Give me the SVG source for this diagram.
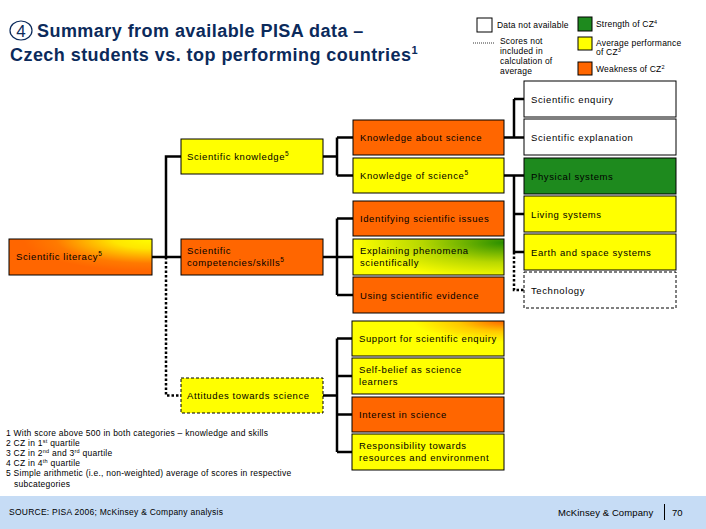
<svg xmlns="http://www.w3.org/2000/svg" width="706" height="529" viewBox="0 0 706 529">
<style>
.box{stroke:#000;stroke-width:1}
.or{fill:#ff6600}
.ye{fill:#ffff00}
.gr{fill:#1e8a1e}
.wh{fill:#fff}
.dash{stroke-dasharray:3 2}
.t{font-family:"Liberation Sans",Arial,sans-serif;font-size:9.5px;letter-spacing:0.6px;fill:#000}
.sup{font-size:6.5px}
.lg{font-family:"Liberation Sans",Arial,sans-serif;font-size:8.5px;letter-spacing:0.2px;fill:#000}
.fn{font-family:"Liberation Sans",Arial,sans-serif;font-size:8.5px;letter-spacing:0.25px;fill:#000}
.ttl{font-family:"Liberation Sans",Arial,sans-serif;font-size:18px;font-weight:bold;letter-spacing:0.45px;fill:#0b2a5b}
.conn{stroke:#000;stroke-width:2.5;fill:none}
.dot{stroke-dasharray:2.5 2}
</style>
<defs>
<radialGradient id="gLit" cx="1" cy="0" r="0.9">
<stop offset="0" stop-color="#ffff00"/>
<stop offset="0.3" stop-color="#ffe600"/>
<stop offset="0.75" stop-color="#ff7a00"/>
<stop offset="1" stop-color="#ff6600"/>
</radialGradient>
<radialGradient id="gExp" cx="1" cy="0.1" r="1">
<stop offset="0" stop-color="#2a8f00"/>
<stop offset="0.55" stop-color="#b8d800"/>
<stop offset="1" stop-color="#ffff00"/>
</radialGradient>
<radialGradient id="gSup" cx="1" cy="0" r="0.6">
<stop offset="0" stop-color="#ff6600"/>
<stop offset="0.5" stop-color="#ffc800"/>
<stop offset="1" stop-color="#ffff00"/>
</radialGradient>
</defs>

<g id="title">
<ellipse cx="21" cy="30.5" rx="11" ry="9.5" fill="none" stroke="#0b2a5b" stroke-width="1.2"/>
<text x="21" y="36.5" text-anchor="middle" font-family="Liberation Sans, Arial, sans-serif" font-size="17" fill="#0b2a5b">4</text>
<text class="ttl" x="37" y="36.5">Summary from available PISA data –</text>
<text class="ttl" x="10" y="60.5">Czech students vs. top performing countries<tspan font-size="11" dy="-7">1</tspan></text>
</g>

<g id="legend">
<rect x="477" y="18" width="15" height="14" class="box wh"/>
<text class="lg" x="497" y="27.5">Data not available</text>
<line x1="473" y1="43" x2="494" y2="43" stroke="#000" stroke-width="0.8" stroke-dasharray="1 1"/>
<text class="lg" x="500" y="43.5">Scores not</text>
<text class="lg" x="500" y="53.5">included in</text>
<text class="lg" x="500" y="63.5">calculation of</text>
<text class="lg" x="500" y="74">average</text>
<rect x="578" y="17" width="14" height="14" class="box gr"/>
<text class="lg" x="596" y="27">Strength of CZ<tspan font-size="5.5" dy="-3">4</tspan></text>
<rect x="578" y="37" width="14" height="13" class="box ye"/>
<text class="lg" x="596" y="45.5">Average performance</text>
<text class="lg" x="596" y="55">of CZ<tspan font-size="5.5" dy="-3">3</tspan></text>
<rect x="578" y="62" width="14" height="13" class="box or"/>
<text class="lg" x="596" y="71.5">Weakness of CZ<tspan font-size="5.5" dy="-3">2</tspan></text>
</g>

<g id="connectors">
<path class="conn" d="M152,257 H181 M166,257 V156.5 H181"/>
<path class="conn dot" d="M166,257 V395.5 H181"/>
<path class="conn" d="M323,156.5 H337 M337,137.5 V175.5 M337,137.5 H353 M337,175.5 H353"/>
<path class="conn" d="M323,257 H353 M337,218.5 V295 M337,218.5 H353 M337,295 H353"/>
<path class="conn" d="M323,395.5 H337 M337,338.5 V452 M337,338.5 H352 M337,376 H352 M337,414.5 H352 M337,452 H352"/>
<path class="conn" d="M504,137.5 H524 M514,99 V137.5 M514,99 H524"/>
<path class="conn" d="M504,175.5 H524 M514,175.5 V252 M514,214 H524 M514,252 H524"/>
<path class="conn dot" d="M514,252 V290 H524"/>
</g>

<g id="scientific-literacy">
<rect x="9" y="239" width="143" height="36" class="box" fill="url(#gLit)"/>
<text class="t" x="16" y="260">Scientific literacy<tspan class="sup" dy="-4">5</tspan></text>
</g>
<g id="scientific-knowledge">
<rect x="181" y="139" width="142" height="35" class="box ye"/>
<text class="t" x="187" y="160">Scientific knowledge<tspan class="sup" dy="-4">5</tspan></text>
</g>
<g id="scientific-competencies">
<rect x="181" y="239" width="142" height="36" class="box or"/>
<text class="t" x="187" y="254">Scientific</text>
<text class="t" x="187" y="266">competencies/skills<tspan class="sup" dy="-4">5</tspan></text>
</g>
<g id="attitudes">
<rect x="181" y="378" width="142" height="35" class="box ye dash"/>
<text class="t" x="187" y="398.5">Attitudes towards science</text>
</g>

<g id="knowledge-about-science">
<rect x="353" y="120" width="151" height="35" class="box or"/>
<text class="t" x="360" y="141">Knowledge about science</text>
</g>
<g id="knowledge-of-science">
<rect x="353" y="158" width="151" height="35" class="box ye"/>
<text class="t" x="360" y="179">Knowledge of science<tspan class="sup" dy="-4">5</tspan></text>
</g>
<g id="identifying">
<rect x="353" y="201" width="151" height="35" class="box or"/>
<text class="t" x="360" y="222">Identifying scientific issues</text>
</g>
<g id="explaining">
<rect x="353" y="239" width="151" height="36" class="box" fill="url(#gExp)"/>
<text class="t" x="360" y="254">Explaining phenomena</text>
<text class="t" x="360" y="266">scientifically</text>
</g>
<g id="using-evidence">
<rect x="353" y="277" width="151" height="36" class="box or"/>
<text class="t" x="360" y="298.5">Using scientific evidence</text>
</g>
<g id="support">
<rect x="352" y="321" width="152" height="35" class="box" fill="url(#gSup)"/>
<text class="t" x="359" y="342">Support for scientific enquiry</text>
</g>
<g id="self-belief">
<rect x="352" y="358" width="152" height="36" class="box ye"/>
<text class="t" x="359" y="373">Self-belief as science</text>
<text class="t" x="359" y="385">learners</text>
</g>
<g id="interest">
<rect x="352" y="397" width="152" height="35" class="box or"/>
<text class="t" x="359" y="418">Interest in science</text>
</g>
<g id="responsibility">
<rect x="352" y="434" width="152" height="36" class="box ye"/>
<text class="t" x="359" y="449">Responsibility towards</text>
<text class="t" x="359" y="461">resources and environment</text>
</g>

<g id="scientific-enquiry">
<rect x="524" y="81" width="152" height="36" class="box wh"/>
<text class="t" x="531" y="102.5">Scientific enquiry</text>
</g>
<g id="scientific-explanation">
<rect x="524" y="119" width="152" height="36" class="box wh"/>
<text class="t" x="531" y="140.5">Scientific explanation</text>
</g>
<g id="physical-systems">
<rect x="524" y="158" width="152" height="36" class="box gr"/>
<text class="t" x="531" y="179.5">Physical systems</text>
</g>
<g id="living-systems">
<rect x="524" y="196" width="152" height="36" class="box ye"/>
<text class="t" x="531" y="217.5">Living systems</text>
</g>
<g id="earth-space">
<rect x="524" y="234" width="152" height="36" class="box ye"/>
<text class="t" x="531" y="255.5">Earth and space systems</text>
</g>
<g id="technology">
<rect x="524" y="272" width="152" height="36" class="box wh dash"/>
<text class="t" x="531" y="293.5">Technology</text>
</g>

<g id="footnotes">
<text class="fn" x="6" y="436">1 With score above 500 in both categories – knowledge and skills</text>
<text class="fn" x="6" y="446">2 CZ in 1<tspan font-size="5.5" dy="-3">st</tspan><tspan dy="3"> quartile</tspan></text>
<text class="fn" x="6" y="456">3 CZ in 2<tspan font-size="5.5" dy="-3">nd</tspan><tspan dy="3"> and 3</tspan><tspan font-size="5.5" dy="-3">rd</tspan><tspan dy="3"> quartile</tspan></text>
<text class="fn" x="6" y="466">4 CZ in 4<tspan font-size="5.5" dy="-3">th</tspan><tspan dy="3"> quartile</tspan></text>
<text class="fn" x="6" y="476">5 Simple arithmetic (i.e., non-weighted) average of scores in respective</text>
<text class="fn" x="14" y="487">subcategories</text>
</g>

<g id="footer">
<rect x="0" y="496" width="706" height="33" fill="#c6dcf5"/>
<text class="fn" x="9" y="515" font-size="8.8">SOURCE: PISA 2006; McKinsey &amp; Company analysis</text>
<text x="558" y="515.5" font-family="Liberation Sans, Arial, sans-serif" font-size="9.5" letter-spacing="0.1" fill="#000">McKinsey &amp; Company</text>
<line x1="664.5" y1="504" x2="664.5" y2="520" stroke="#000" stroke-width="1"/>
<text x="672" y="515.5" font-family="Liberation Sans, Arial, sans-serif" font-size="9.5" fill="#000">70</text>
</g>
</svg>
